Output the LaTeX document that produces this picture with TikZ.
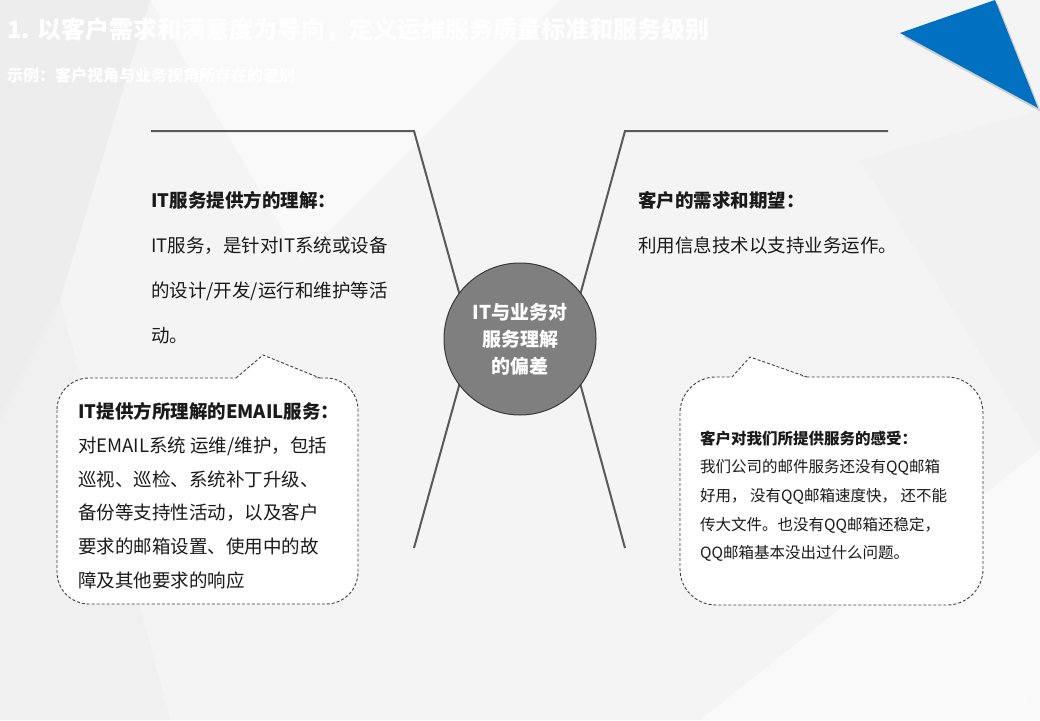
\documentclass[tikz,border=0pt]{standalone}
\usepackage{fontspec}
\setmainfont{Noto Sans CJK SC}
\definecolor{bgc}{HTML}{F5F4F5}
\definecolor{bgd}{HTML}{EDEDED}
\definecolor{bgl}{HTML}{FAF9FA}
\definecolor{txtc}{HTML}{1A1A1A}
\definecolor{linec}{HTML}{595959}
\definecolor{bubc}{HTML}{404040}
\definecolor{hubc}{HTML}{7F7F7F}
\definecolor{hubedge}{HTML}{3A3A3A}
\definecolor{triblue}{HTML}{0070C0}
\begin{document}
\begin{tikzpicture}[x=1pt,y=-1pt,
  body/.style={anchor=base west, inner sep=0pt, text=txtc, font=\fontsize{18.5}{20}\selectfont},
  head/.style={body, font=\fontsize{18.5}{20}\selectfont\bfseries},
  sbody/.style={anchor=base west, inner sep=0pt, text=txtc, font=\fontsize{15.5}{18}\selectfont},
  shead/.style={sbody, font=\fontsize{15.5}{18}\selectfont\bfseries},
  bubble/.style={draw=bubc, dash pattern=on 3pt off 2pt, line width=0.9pt, fill=white},
  xline/.style={draw=linec, line width=2pt, line join=miter},
  hub/.style={circle, fill=hubc, draw=hubedge, line width=1pt, minimum size=152pt, inner sep=0pt,
    text=white, align=center, font=\fontsize{19}{27}\selectfont\bfseries},
  ttl/.style={anchor=base west, inner sep=0pt, text=white, font=\fontsize{24}{26}\selectfont\bfseries}
]
\useasboundingbox (0,0) rectangle (1040,720);
% background
\fill[bgc] (0,0) rectangle (1040,720);
\fill[bgd] (0,0) -- (150,0) -- (60,300) -- (0,420) -- cycle;
\fill[bgl] (150,0) -- (560,0) -- (300,260) -- cycle;
\fill[bgd!50!bgc] (0,420) -- (60,300) -- (170,720) -- (0,720) -- cycle;
\fill[bgl] (700,720) -- (1040,450) -- (1040,720) -- cycle;
\fill[bgd!40!bgc] (860,160) -- (1040,110) -- (1040,450) -- cycle;

% title
\node[ttl] (title) at (7,38) {1. 以客户需求和满意度为导向，定义运维服务质量标准和服务级别};
\node[ttl, font=\fontsize{16}{18}\selectfont\bfseries] (subtitle) at (7,81) {示例：客户视角与业务视角所存在的差别};

% blue triangle
\fill[black, opacity=0.15] (903,37) -- (998,4) -- (1041,112) -- cycle;
\fill[triblue] (900,33) -- (995,0) -- (1038,108) -- cycle;

% cross lines
\coordinate (lh) at (151,131);
\coordinate (lt) at (414,131);
\coordinate (lb) at (414,548);
\coordinate (lv) at (472,339);
\coordinate (rh) at (888,131);
\coordinate (rt) at (625,131);
\coordinate (rb) at (625,548);
\coordinate (rv) at (568,339);
\draw[xline] (lh) -- (lt) -- (lv) -- (lb);
\draw[xline] (rh) -- (rt) -- (rv) -- (rb);

% hub
\node[hub] (hub) at (520,339) {IT与业务对\\服务理解\\的偏差};

% left texts
\node[head] (l1) at (151,207) {IT服务提供方的理解：};
\node[body] (l2) at (151,252) {IT服务，是针对IT系统或设备};
\node[body] (l3) at (151,297) {的设计/开发/运行和维护等活};
\node[body] (l4) at (151,342) {动。};

% right texts
\node[head] (r1) at (638,207) {客户的需求和期望：};
\node[body] (r2) at (638,252) {利用信息技术以支持业务运作。};

% left bubble
\path[bubble] (57,378) [rounded corners=32pt] rectangle (358,604);
\fill[white] (234,380) -- (263,355) -- (320,380) -- cycle;
\draw[bubble, fill=none] (236,378) -- (263,355) -- (320,378);

% right bubble
\path[bubble] (680,377) [rounded corners=36pt] rectangle (983,605);
\fill[white] (729,379.5) -- (750,357) -- (810,379.5) -- cycle;
\draw[bubble, fill=none] (732,377) -- (750,357) -- (807,377);

% left bubble text
\node[head] (b1) at (78,418.8) {IT提供方所理解的EMAIL服务：};
\node[body] (b2) at (78,452.5) {对EMAIL系统 运维/维护，包括};
\node[body] (b3) at (78,486.2) {巡视、巡检、系统补丁升级、};
\node[body] (b4) at (78,519.9) {备份等支持性活动，以及客户};
\node[body] (b5) at (78,553.6) {要求的邮箱设置、使用中的故};
\node[body] (b6) at (78,587.3) {障及其他要求的响应};

% right bubble text
\node[shead] (c1) at (700,444) {客户对我们所提供服务的感受：};
\node[sbody] (c2) at (700,472.7) {我们公司的邮件服务还没有QQ邮箱};
\node[sbody] (c3) at (700,501.4) {好用， 没有QQ邮箱速度快， 还不能};
\node[sbody] (c4) at (700,530.1) {传大文件。也没有QQ邮箱还稳定，};
\node[sbody] (c5) at (700,558.8) {QQ邮箱基本没出过什么问题。};

% page number
\node[anchor=base, inner sep=0pt, text=white, font=\fontsize{9}{10}\selectfont] (pg) at (1024,704) {9};
\end{tikzpicture}
\end{document}
